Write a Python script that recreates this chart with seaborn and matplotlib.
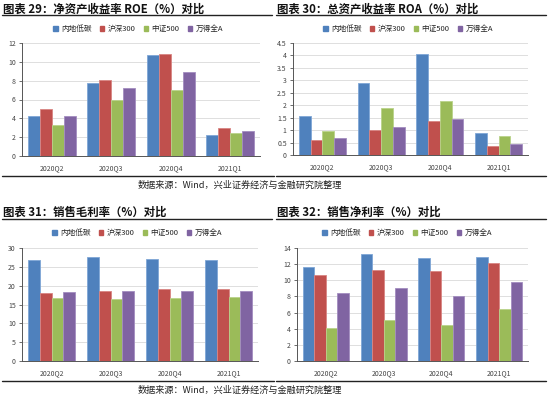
import numpy as np
import pandas as pd
import seaborn as sns
import matplotlib
matplotlib.use("Agg")
import matplotlib.pyplot as plt
from matplotlib.lines import Line2D
from matplotlib.patches import Patch

quarters = ["2020Q2", "2020Q3", "2020Q4", "2021Q1"]
series = ["内地低碳", "沪深300", "中证500", "万得全A"]
colors = ["#4F81BD", "#C0504D", "#9BBB59", "#8064A2"]

roe_lowcarbon = [4.2, 7.8, 10.7, 2.2]
roe_hs300 = [5.0, 8.1, 10.8, 3.0]
roe_zz500 = [3.3, 6.0, 7.0, 2.4]
roe_wind = [4.3, 7.2, 8.9, 2.7]

roa_lowcarbon = [1.55, 2.9, 4.07, 0.88]
roa_hs300 = [0.62, 1.02, 1.38, 0.38]
roa_zz500 = [0.97, 1.9, 2.17, 0.77]
roa_wind = [0.68, 1.14, 1.45, 0.44]

gm_lowcarbon = [26.9, 27.7, 27.2, 26.7]
gm_hs300 = [18.0, 18.6, 19.2, 19.0]
gm_zz500 = [16.7, 16.5, 16.6, 17.0]
gm_wind = [18.2, 18.7, 18.6, 18.7]

nm_lowcarbon = [11.7, 13.3, 12.8, 12.9]
nm_hs300 = [10.6, 11.3, 11.1, 12.2]
nm_zz500 = [4.1, 5.1, 4.5, 6.5]
nm_wind = [8.4, 9.1, 8.1, 9.8]

titles = ["图表 29：净资产收益率 ROE（%）对比",
          "图表 30：总资产收益率 ROA（%）对比",
          "图表 31：销售毛利率（%）对比",
          "图表 32：销售净利率（%）对比"]
source = "数据来源：Wind，兴业证券经济与金融研究院整理"

yticks_all = [np.arange(0, 12.1, 2), np.arange(0, 4.51, 0.5),
              np.arange(0, 30.1, 5), np.arange(0, 14.1, 2)]
ytick_labels_all = [["0", "2", "4", "6", "8", "10", "12"],
                    ["0", "0.5", "1", "1.5", "2", "2.5", "3", "3.5", "4", "4.5"],
                    ["0", "5", "10", "15", "20", "25", "30"],
                    ["0", "2", "4", "6", "8", "10", "12", "14"]]

datasets = [
    [roe_lowcarbon, roe_hs300, roe_zz500, roe_wind],
    [roa_lowcarbon, roa_hs300, roa_zz500, roa_wind],
    [gm_lowcarbon, gm_hs300, gm_zz500, gm_wind],
    [nm_lowcarbon, nm_hs300, nm_zz500, nm_wind],
]

sns.set_theme(style="white")
plt.rcParams['font.family'] = ['Noto Sans CJK SC', 'DejaVu Sans']

W, H = 550, 395
fig = plt.figure(figsize=(W / 100, H / 100), dpi=100)
fig.patch.set_facecolor("white")

def fx(px):
    return px / W

def fy(py):
    return 1 - py / H

# axes boxes in pixels: left, right, top, bottom
boxes = [(22, 260, 43, 156), (293, 528, 43, 155),
         (22, 258, 248, 361), (297, 528, 248, 361)]
title_pos = [(3, 9), (277, 9), (3, 212), (277, 212)]
legend_pos = [(138, 29), (408, 29), (137, 233), (407, 233)]
tline = [(2, 272, 15), (276, 546, 15), (2, 272, 219), (276, 546, 219)]
bline = [(2, 274, 176), (276, 546, 176), (2, 274, 381), (276, 546, 381)]

edge_cols = ["#7FA6D6", "#D98583", "#B9D38A", "#A38DC0"]

for i, (vals, box) in enumerate(zip(datasets, boxes)):
    l, r, t, b = box
    ax = fig.add_axes([fx(l), fy(b), fx(r) - fx(l), fy(t) - fy(b)])
    rows = []
    for s, v in zip(series, vals):
        for q, val in zip(quarters, v):
            rows.append({"quarter": q, "series": s, "value": val})
    df = pd.DataFrame(rows)
    sns.barplot(data=df, x="quarter", y="value", hue="series", order=quarters,
                hue_order=series, palette=colors, width=0.8, ax=ax,
                saturation=1, linewidth=0.5, legend=False)
    for j, cont in enumerate(ax.containers):
        for p in cont:
            p.set_edgecolor(edge_cols[j])
            p.set_linewidth(0.6)
    yt = yticks_all[i]
    ax.set_ylim(0, yt[-1])
    ax.set_yticks(yt)
    ax.set_yticklabels(ytick_labels_all[i], fontsize=5, color="#444444")
    ax.set_xlim(-0.5, 3.5)
    ax.set_xticks(range(4))
    ax.set_xticklabels(quarters, fontsize=5, color="#444444")
    ax.set_xticks([0.5, 1.5, 2.5, 3.5], minor=True)
    ax.tick_params(axis="x", which="major", length=0, pad=6)
    ax.tick_params(axis="x", which="minor", length=2.5, width=0.6, color="#555555", direction="out")
    ax.tick_params(axis="y", length=2.5, width=0.6, color="#555555", direction="out", pad=2, left=True)
    ax.set_xlabel("")
    ax.set_ylabel("")
    ax.yaxis.grid(True, color="#D9D9D9", linewidth=0.6)
    ax.set_axisbelow(True)
    for sp in ["top", "right"]:
        ax.spines[sp].set_visible(False)
    for sp in ["left", "bottom"]:
        ax.spines[sp].set_color("#555555")
        ax.spines[sp].set_linewidth(0.7)

    tx, ty = title_pos[i]
    fig.text(fx(tx), fy(ty), titles[i], fontsize=8.2, fontweight="bold",
             ha="left", va="center", color="#111111")
    x0, x1, yy = tline[i]
    fig.add_artist(Line2D([fx(x0), fx(x1)], [fy(yy), fy(yy)], color="#222222", linewidth=1.0))
    x0, x1, yy = bline[i]
    fig.add_artist(Line2D([fx(x0), fx(x1)], [fy(yy), fy(yy)], color="#222222", linewidth=1.0))

    handles = [Patch(facecolor=c, edgecolor=c) for c in colors]
    lx, ly = legend_pos[i]
    fig.legend(handles, series, loc="center", bbox_to_anchor=(fx(lx), fy(ly)),
               ncol=4, frameon=False, fontsize=5.5, handlelength=0.6, handleheight=0.6,
               handletextpad=0.4, columnspacing=1.1, borderaxespad=0)

fig.text(fx(240), fy(185), source, fontsize=6.6, ha="center", va="center", color="#222222")
fig.text(fx(240), fy(390), source, fontsize=6.6, ha="center", va="center", color="#222222")

fig.savefig("out.png", dpi=100, facecolor="white")
